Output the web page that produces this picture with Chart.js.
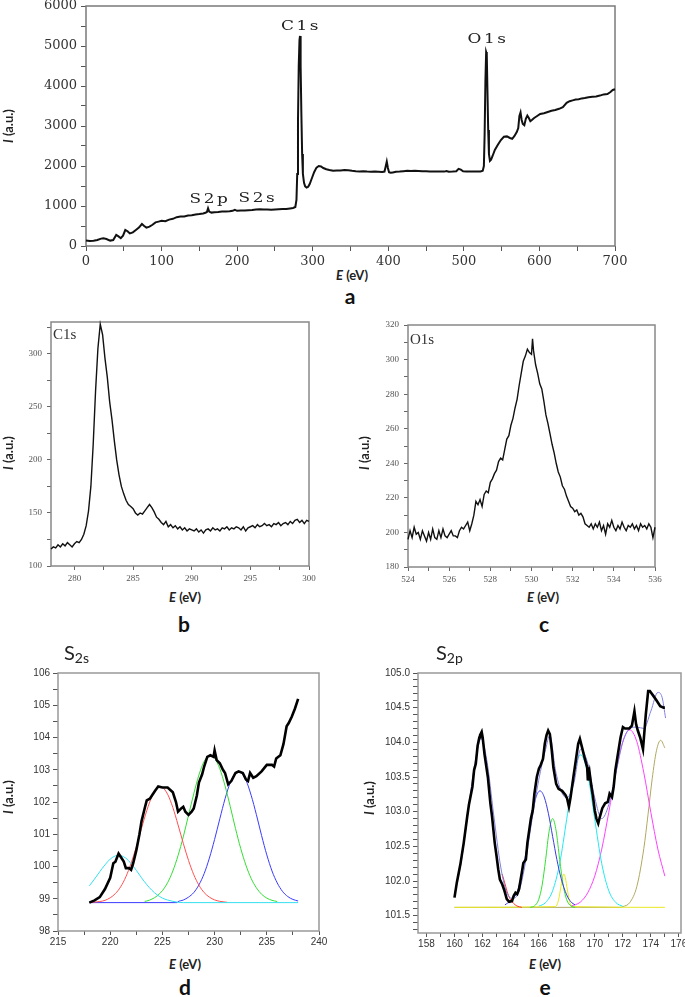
<!DOCTYPE html>
<html><head><meta charset="utf-8">
<script src="https://cdn.jsdelivr.net/npm/chart.js@4.4.1/dist/chart.umd.min.js"></script>
<style>
html,body{margin:0;padding:0;background:#fff;}
body{width:685px;height:997px;position:relative;overflow:hidden;}
.pn{position:absolute;}
.lbl{position:absolute;white-space:nowrap;line-height:1;transform:translate(-50%,-50%);}
.ax{font-family:Lato,'Open Sans',sans-serif;font-weight:bold;font-size:13px;color:#222;}
.yt{transform:translate(-50%,-50%) rotate(-90deg);}
.let{font-family:Lato,'Open Sans',sans-serif;font-weight:bold;font-size:21px;color:#111;}
.ann{font-family:'DejaVu Serif',serif;font-size:13px;color:#222;letter-spacing:2px;}
.inl{position:absolute;font-family:'Liberation Serif',serif;font-size:15px;color:#333;line-height:1;}
.ttl{position:absolute;font-family:Lato,sans-serif;font-size:20px;color:#222;line-height:1;}
.ttl sub{font-size:14px;vertical-align:-3px;}
</style></head><body>

<div class="pn" style="left:0;top:-20px"><canvas id="ca" width="640" height="285" style="width:640px;height:285px"></canvas></div>
<div class="pn" style="left:0;top:300px"><canvas id="cb" width="320" height="282" style="width:320px;height:282px"></canvas></div>
<div class="pn" style="left:360px;top:300px"><canvas id="cc" width="305" height="282" style="width:305px;height:282px"></canvas></div>
<div class="pn" style="left:0;top:660px"><canvas id="cd" width="330" height="290" style="width:330px;height:290px"></canvas></div>
<div class="pn" style="left:360px;top:660px"><canvas id="ce" width="340" height="292" style="width:340px;height:292px"></canvas></div>

<!-- panel a texts -->
<div class="lbl ann" style="left:301px;top:25px;transform:translate(-50%,-50%) scaleX(1.3)">C1s</div>
<div class="lbl ann" style="left:488px;top:38px;transform:translate(-50%,-50%) scaleX(1.3)">O1s</div>
<div class="lbl ann" style="left:210px;top:198px;transform:translate(-50%,-50%) scaleX(1.3)">S2p</div>
<div class="lbl ann" style="left:258px;top:197px;transform:translate(-50%,-50%) scaleX(1.3)">S2s</div>
<div class="lbl ax" style="left:352px;top:275px"><i>E</i> (eV)</div>
<div class="lbl let" style="left:350px;top:295px">a</div>
<div class="lbl ax yt" style="left:8px;top:126px"><i>I</i> (a.u.)</div>

<!-- panel b texts -->
<div class="inl" style="left:53px;top:327px">C1s</div>
<div class="lbl ax" style="left:185px;top:597px"><i>E</i> (eV)</div>
<div class="lbl let" style="left:184px;top:623px">b</div>
<div class="lbl ax yt" style="left:8px;top:453px"><i>I</i> (a.u.)</div>

<!-- panel c texts -->
<div class="inl" style="left:410px;top:332px">O1s</div>
<div class="lbl ax" style="left:543px;top:597px"><i>E</i> (eV)</div>
<div class="lbl let" style="left:544px;top:623px">c</div>
<div class="lbl ax yt" style="left:364px;top:453px"><i>I</i> (a.u.)</div>

<!-- panel d texts -->
<div class="ttl" style="left:64px;top:642px">S<sub>2s</sub></div>
<div class="lbl ax" style="left:185px;top:964px"><i>E</i> (eV)</div>
<div class="lbl let" style="left:185px;top:986px">d</div>
<div class="lbl ax yt" style="left:8px;top:797px"><i>I</i> (a.u.)</div>

<!-- panel e texts -->
<div class="ttl" style="left:436px;top:642px">S<sub>2p</sub></div>
<div class="lbl ax" style="left:545px;top:964px"><i>E</i> (eV)</div>
<div class="lbl let" style="left:545px;top:986px">e</div>
<div class="lbl ax yt" style="left:369px;top:798px"><i>I</i> (a.u.)</div>

<script>
// ---------------- DATA ----------------
// Panel a: survey spectrum [E (eV), I (a.u.)]
const surveyA = [[0,140],[5,125],[10,130],[15,150],[20,185],[23,195],[27,175],[32,135],[36,150],[40,275],[43,240],[46,195],[49,260],[52,400],[55,370],[58,315],[62,340],[66,400],[70,460],[74,550],[77,500],[80,460],[84,485],[88,530],[92,590],[96,610],[100,630],[105,620],[110,660],[115,680],[120,720],[125,735],[130,740],[135,760],[140,770],[145,790],[150,800],[155,815],[158,830],[160,850],[161.5,945],[163,860],[166,835],[170,845],[175,850],[180,860],[185,865],[190,870],[194,880],[197,905],[200,880],[205,885],[210,890],[215,895],[220,900],[225,915],[230,920],[235,910],[240,915],[245,905],[250,915],[255,920],[260,925],[265,925],[270,940],[274,950],[277,975],[278.5,1150],[279.5,1800],[280.5,3100],[281.5,4500],[282.5,5150],[283.2,5250],[284,4500],[285,3300],[286,2300],[287,1800],[288.5,1580],[290,1490],[292,1460],[294,1480],[296,1550],[299,1700],[302,1850],[305,1960],[308,2000],[311,1990],[314,1950],[318,1920],[322,1900],[327,1880],[332,1890],[337,1885],[342,1900],[347,1895],[352,1880],[357,1870],[362,1865],[367,1870],[372,1860],[377,1855],[382,1860],[387,1855],[392,1850],[395,1860],[396.5,1980],[398,2110],[399.5,1950],[401,1845],[403,1830],[406,1840],[410,1855],[415,1860],[420,1870],[425,1880],[430,1875],[435,1880],[440,1875],[445,1870],[450,1870],[455,1865],[460,1865],[465,1860],[470,1860],[474,1860],[477,1875],[480,1855],[485,1860],[490,1870],[493,1930],[496,1910],[499,1870],[503,1865],[508,1865],[513,1860],[518,1865],[522,1865],[525,1880],[526.5,2000],[527.5,2800],[528.5,4100],[529.5,4850],[530.3,4800],[531.2,3900],[532.2,2900],[533.2,2300],[534.5,2130],[536,2160],[538,2250],[541,2400],[545,2530],[549,2650],[553,2730],[557,2740],[561,2700],[564,2680],[567,2750],[570,2850],[572,2950],[573.5,3250],[575,3340],[576.5,3150],[578,3050],[580,3020],[582,3180],[584,3260],[586,3200],[588,3120],[590,3150],[593,3200],[597,3250],[601,3300],[606,3320],[611,3350],[616,3380],[621,3400],[626,3430],[631,3470],[636,3580],[640,3620],[644,3640],[648,3660],[652,3670],[656,3690],[660,3700],[665,3720],[670,3730],[675,3740],[680,3760],[685,3790],[690,3800],[694,3850],[697,3900],[700,3920]];
const aTicksX = [0,50,100,150,200,250,300,350,400,450,500,550,600,650,700];
const aLabelsX = [0,100,200,300,400,500,600,700];
const aTicksY = [0,500,1000,1500,2000,2500,3000,3500,4000,4500,5000,5500,6000];
const aLabelsY = [0,1000,2000,3000,4000,5000,6000];

// Panel b: C1s
const c1s = [[278.0,116],[278.2,118],[278.4,117],[278.6,120],[278.8,118],[279.0,121],[279.2,119],[279.4,122],[279.6,120],[279.8,118],[280.0,121],[280.2,123],[280.4,122],[280.6,125],[280.8,130],[281.0,138],[281.2,152],[281.4,175],[281.6,215],[281.8,265],[282.0,305],[282.2,328],[282.4,318],[282.6,296],[282.8,278],[283.0,255],[283.2,238],[283.4,218],[283.6,200],[283.8,186],[284.0,175],[284.2,168],[284.4,162],[284.6,158],[284.8,156],[285.0,154],[285.2,150],[285.4,148],[285.6,150],[285.8,149],[286.0,152],[286.2,155],[286.4,158],[286.6,155],[286.8,151],[287.0,146],[287.2,144],[287.4,141],[287.6,139],[287.8,142],[288.0,137],[288.2,139],[288.4,136],[288.6,138],[288.8,135],[289.0,137],[289.2,134],[289.4,136],[289.6,133],[289.8,135],[290.0,134],[290.2,133],[290.4,135],[290.6,132],[290.8,134],[291.0,131],[291.2,134],[291.4,135],[291.6,133],[291.8,136],[292.0,134],[292.2,135],[292.4,133],[292.6,136],[292.8,135],[293.0,137],[293.2,134],[293.4,136],[293.6,135],[293.8,137],[294.0,136],[294.2,134],[294.4,137],[294.6,133],[294.8,136],[295.0,137],[295.2,138],[295.4,136],[295.6,139],[295.8,137],[296.0,138],[296.2,140],[296.4,138],[296.6,139],[296.8,137],[297.0,140],[297.2,139],[297.4,141],[297.6,138],[297.8,140],[298.0,141],[298.2,139],[298.4,142],[298.6,140],[298.8,143],[299.0,144],[299.2,141],[299.4,143],[299.6,140],[299.8,143],[300.0,142]];
const bTicksX = [280,282.5,285,287.5,290,292.5,295,297.5,300];
const bLabelsX = [280,285,290,295,300];
const bTicksY = [100,125,150,175,200,225,250,275,300,325];
const bLabelsY = [100,150,200,250,300];

// Panel c: O1s
const o1s = [[524.0,196],[524.1,201],[524.2,197],[524.3,203],[524.4,199],[524.5,200],[524.6,196],[524.7,201],[524.8,198],[524.9,195],[525.0,200],[525.1,196],[525.2,202],[525.3,197],[525.4,196],[525.5,201],[525.6,197],[525.7,202],[525.8,198],[525.9,197],[526.0,199],[526.1,201],[526.2,198],[526.3,198],[526.4,197],[526.5,201],[526.6,203],[526.7,202],[526.8,204],[526.9,206],[527.0,201],[527.1,205],[527.2,210],[527.3,218],[527.4,216],[527.5,219],[527.6,215],[527.7,222],[527.8,224],[527.9,223],[528.0,229],[528.1,231],[528.2,234],[528.3,236],[528.4,241],[528.5,243],[528.6,242],[528.7,248],[528.8,254],[528.9,256],[529.0,262],[529.1,266],[529.2,272],[529.3,277],[529.4,285],[529.5,292],[529.6,299],[529.7,302],[529.8,306],[529.9,304],[530.0,303],[530.05,312],[530.1,305],[530.2,297],[530.3,292],[530.4,286],[530.5,283],[530.6,276],[530.7,268],[530.8,263],[530.9,257],[531.0,251],[531.1,246],[531.2,240],[531.3,235],[531.4,232],[531.5,227],[531.6,225],[531.7,221],[531.8,218],[531.9,215],[532.0,214],[532.1,212],[532.2,213],[532.3,210],[532.4,211],[532.5,209],[532.6,205],[532.7,204],[532.8,203],[532.9,205],[533.0,202],[533.1,205],[533.2,203],[533.3,206],[533.4,201],[533.5,204],[533.6,199],[533.7,205],[533.8,203],[533.9,207],[534.0,203],[534.1,201],[534.2,204],[534.3,202],[534.4,206],[534.5,203],[534.6,201],[534.7,204],[534.8,203],[534.9,205],[535.0,202],[535.1,204],[535.2,201],[535.3,205],[535.4,203],[535.5,204],[535.6,202],[535.7,205],[535.8,203],[535.9,197],[536.0,203]];
const cTicksX = [524,525,526,527,528,529,530,531,532,533,534,535,536];
const cLabelsX = [524,526,528,530,532,534,536];
const cTicksY = [180,190,200,210,220,230,240,250,260,270,280,290,300,310,320];
const cLabelsY = [180,200,220,240,260,280,300,320];

// Panel d: S2s measured + fitted peaks
const s2sData = [[218.0,98.88],[218.5,98.95],[219.0,99.05],[219.5,99.3],[220.0,99.65],[220.3,100.1],[220.5,100.15],[220.8,100.4],[221.0,100.3],[221.3,100.15],[221.5,99.95],[221.8,99.95],[222.0,99.9],[222.2,100.1],[222.5,100.5],[222.8,101.0],[223.0,101.4],[223.3,101.8],[223.5,102.05],[223.8,102.1],[224.0,102.2],[224.3,102.35],[224.6,102.48],[225.0,102.45],[225.5,102.45],[226.0,102.3],[226.3,102.0],[226.5,101.7],[226.8,101.8],[227.0,101.85],[227.2,101.7],[227.5,101.6],[227.8,101.7],[228.0,101.8],[228.3,102.2],[228.5,102.6],[228.8,102.85],[229.0,103.1],[229.3,103.4],[229.6,103.45],[229.9,103.4],[230.0,103.6],[230.2,103.3],[230.5,103.2],[230.8,103.0],[231.0,102.9],[231.3,102.55],[231.6,102.65],[232.0,102.9],[232.3,102.95],[232.7,102.9],[233.0,102.7],[233.2,102.65],[233.4,102.9],[233.7,102.75],[234.0,102.8],[234.5,102.95],[235.0,103.15],[235.5,103.15],[235.7,103.1],[235.9,103.35],[236.3,103.45],[236.6,103.8],[236.9,104.35],[237.1,104.45],[237.4,104.65],[237.7,104.9],[238.0,105.2]];
const s2sCyan = [[218,99.40],[218.5,99.61],[219,99.84],[219.5,100.05],[220,100.23],[220.5,100.33],[220.8,100.35],[221,100.34],[221.5,100.26],[222,100.09],[222.5,99.88],[223,99.65],[223.5,99.44],[224,99.26],[224.5,99.12],[225,99.02],[225.5,98.96],[226,98.92],[226.5,98.89],[227,98.88],[238,98.88]];
const s2sRed = [[218,98.886],[218.5,98.895],[219,98.914],[219.5,98.95],[220,99.03],[220.5,99.16],[221,99.37],[221.5,99.68],[222,100.10],[222.5,100.61],[223,101.18],[223.5,101.73],[224,102.17],[224.5,102.44],[224.8,102.48],[225,102.46],[225.5,102.24],[226,101.83],[226.5,101.29],[227,100.72],[227.5,100.19],[228,99.75],[228.5,99.42],[229,99.19],[229.5,99.05],[230,98.965],[230.5,98.92],[231,98.898],[231.2,98.89]];
const s2sGreen = [[223.3,98.92],[223.5,98.93],[224,98.99],[224.5,99.09],[225,99.25],[225.5,99.50],[226,99.86],[226.5,100.34],[227,100.92],[227.5,101.59],[228,102.25],[228.5,102.84],[229,103.26],[229.6,103.45],[230,103.36],[230.5,103.03],[231,102.50],[231.5,101.86],[232,101.18],[232.5,100.56],[233,100.04],[233.5,99.63],[234,99.34],[234.5,99.14],[235,99.02],[235.5,98.95],[236,98.915]];
const s2sBlue = [[218,98.88],[226.4,98.88],[226.5,98.91],[227,98.96],[227.5,99.05],[228,99.19],[228.5,99.43],[229,99.78],[229.5,100.26],[230,100.84],[230.5,101.48],[231,102.10],[231.5,102.60],[232,102.90],[232.3,102.95],[232.5,102.93],[233,102.68],[233.5,102.21],[234,101.61],[234.5,100.96],[235,100.36],[235.5,99.86],[236,99.49],[236.5,99.23],[237,99.07],[237.5,98.98],[238,98.93]];
const dTicksX = [215,217.5,220,222.5,225,227.5,230,232.5,235,237.5,240];
const dLabelsX = [215,220,225,230,235,240];
const dTicksY = [98,98.5,99,99.5,100,100.5,101,101.5,102,102.5,103,103.5,104,104.5,105,105.5,106];
const dLabelsY = [98,99,100,101,102,103,104,105,106];

// Panel e: S2p measured + fitted peaks
const s2pData = [[160.0,101.76],[160.17,101.98],[160.42,102.24],[160.66,102.55],[160.91,102.93],[161.03,103.10],[161.28,103.36],[161.4,103.6],[161.52,103.69],[161.65,103.95],[161.77,104.07],[161.82,104.10],[161.94,104.15],[162.01,104.07],[162.14,103.83],[162.38,103.5],[162.56,103.12],[162.68,102.93],[162.87,102.55],[163.0,102.36],[163.12,102.17],[163.24,102.02],[163.41,101.95],[163.56,101.86],[163.73,101.74],[163.9,101.70],[164.1,101.71],[164.23,101.79],[164.35,101.83],[164.47,101.81],[164.6,101.88],[164.8,102.12],[164.91,102.26],[165.09,102.31],[165.2,102.55],[165.45,102.90],[165.58,103.02],[165.7,103.26],[165.87,103.5],[166.02,103.62],[166.14,103.67],[166.31,103.76],[166.44,103.98],[166.56,104.10],[166.68,104.17],[166.8,104.12],[166.93,103.90],[167.05,103.64],[167.25,103.40],[167.42,103.33],[167.67,103.30],[167.91,103.24],[168.03,103.19],[168.16,103.07],[168.28,103.21],[168.48,103.5],[168.65,103.74],[168.82,103.98],[168.94,104.05],[169.09,103.93],[169.26,103.79],[169.46,103.64],[169.51,103.45],[169.63,103.57],[169.75,103.38],[169.88,103.21],[170.0,103.02],[170.12,102.90],[170.25,102.83],[170.37,102.93],[170.54,103.05],[170.74,103.12],[170.93,103.14],[171.06,103.26],[171.23,103.21],[171.35,103.36],[171.47,103.6],[171.65,103.83],[171.84,104.07],[172.01,104.22],[172.16,104.20],[172.46,104.20],[172.65,104.24],[172.83,104.45],[172.95,104.26],[173.07,104.17],[173.24,104.07],[173.44,103.90],[173.64,104.40],[173.81,104.74],[173.93,104.74],[174.18,104.67],[174.42,104.6],[174.67,104.52],[174.91,104.5],[175.0,104.5]];
const s2pEnvelope = [[160,101.8],[160.5,102.3],[161,103.05],[161.5,103.75],[161.9,104.05],[162.3,103.75],[162.8,102.95],[163.3,102.2],[163.8,101.8],[164.2,101.75],[164.6,101.85],[165,102.2],[165.5,102.85],[166,103.45],[166.5,103.9],[166.8,104.1],[167.2,103.6],[167.6,103.3],[168,103.2],[168.5,103.4],[169,103.9],[169.5,103.7],[170,103.2],[170.5,102.9],[171,103.1],[171.5,103.55],[172,104.0],[172.5,104.2],[173,104.22],[173.5,104.2],[174,104.45],[174.5,104.72],[174.8,104.65],[175.05,104.35]];
const s2pRed = [[163.4,102.1],[163.6,101.96],[163.8,101.82],[164.0,101.73],[164.2,101.68],[164.45,101.64],[164.8,101.62]];
const s2pBlue = [[163.6,101.655],[164,101.72],[164.5,101.86],[165,102.3],[165.5,102.9],[165.8,103.2],[166.1,103.30],[166.4,103.21],[166.7,102.97],[167,102.64],[167.3,102.31],[167.6,102.04],[168,101.80],[168.3,101.70],[168.6,101.655]];
const s2pGreen = [[165.4,101.62],[165.7,101.64],[166.0,101.73],[166.25,101.94],[166.5,102.31],[166.75,102.72],[167.0,102.90],[167.25,102.72],[167.5,102.31],[167.75,101.94],[168.0,101.73],[168.3,101.64],[168.6,101.62]];
const s2pYellow = [[160,101.62],[167.2,101.63],[167.4,101.71],[167.55,101.87],[167.7,102.05],[167.8,102.10],[167.9,102.05],[168.05,101.87],[168.2,101.71],[168.4,101.63],[175,101.62]];
const s2pCyan = [[166.0,101.635],[166.5,101.69],[167.0,101.86],[167.5,102.25],[168.0,102.89],[168.5,103.54],[169.0,103.82],[169.5,103.54],[170.0,102.89],[170.5,102.25],[171.0,101.86],[171.5,101.69],[172.0,101.635]];
const s2pMagenta = [[168.3,101.64],[168.5,101.65],[169.0,101.70],[169.5,101.83],[170.0,102.07],[170.5,102.46],[171.0,102.99],[171.5,103.56],[172.0,104.01],[172.5,104.18],[173.0,104.01],[173.5,103.56],[174.0,102.99],[174.5,102.46],[175.0,102.07]];
const s2pOlive = [[160,101.62],[171.8,101.62],[172.0,101.63],[172.5,101.69],[173.0,101.92],[173.5,102.47],[173.8,102.96],[174.1,103.48],[174.4,103.88],[174.7,104.03],[175.0,103.92]];
const eTicksX = [158,159,160,161,162,163,164,165,166,167,168,169,170,171,172,173,174,175,176];
const eLabelsX = [158,160,162,164,166,168,170,172,174,176];
const eTicksY = [101.3,101.4,101.5,101.6,101.7,101.8,101.9,102.0,102.1,102.2,102.3,102.4,102.5,102.6,102.7,102.8,102.9,103.0,103.1,103.2,103.3,103.4,103.5,103.6,103.7,103.8,103.9,104.0,104.1,104.2,104.3,104.4,104.5,104.6,104.7,104.8,104.9,105.0];
const eLabelsY = [101.5,102.0,102.5,103.0,103.5,104.0,104.5,105.0];

// ---------------- HELPERS ----------------
function framePlugin(color, w){
  return {id:'frame', beforeDatasetsDraw(c){
    const a=c.chartArea, x=c.ctx; x.save(); x.strokeStyle=color; x.lineWidth=w;
    x.strokeRect(a.left,a.top,a.right-a.left,a.bottom-a.top); x.restore(); }};
}
function axis(o){
  return {type:'linear', position:o.pos, min:o.min, max:o.max,
    afterBuildTicks:s=>{ s.ticks=o.ticks.map(v=>({value:v})); },
    afterFit:s=>{ if(o.pos==='left') s.width=o.fit; else s.height=o.fit; },
    ticks:{autoSkip:false, maxRotation:0, minRotation:0, padding:o.pad, color:o.color, font:o.font,
      callback:(v)=> o.labels.includes(v) ? o.fmt(v) : ''},
    grid:{drawOnChartArea:false, drawTicks:true, tickLength:o.tl, tickColor:o.tc, tickWidth:1},
    border:{display:false}};
}
function ds(pairs, color, w, smooth, order){
  return {data:pairs.map(p=>({x:p[0],y:p[1]})), borderColor:color, borderWidth:w, pointRadius:0,
    fill:false, tension:0, cubicInterpolationMode: smooth?'monotone':'default', order:order, clip:false};
}
function make(id, datasets, xo, yo, pad, frameColor){
  new Chart(document.getElementById(id), {
    type:'line', data:{datasets},
    options:{responsive:false, animation:false, devicePixelRatio:1,
      layout:{padding:pad},
      plugins:{legend:{display:false}, tooltip:{enabled:false}},
      scales:{x:axis(Object.assign({pos:'bottom'},xo)), y:axis(Object.assign({pos:'left'},yo))}},
    plugins:[framePlugin(frameColor,1.5)]
  });
}
const int = v=>String(v);
const fnA = {family:"'DejaVu Serif', serif", size:13};
const fnB = {family:"'Liberation Serif', serif", size:9};
const fnD = {family:"'Liberation Sans', Arial, sans-serif", size:10};

// Panel a  (canvas top -20 → plot top 6, bottom 246; right 615)
make('ca', [ds(surveyA,'#111',2,false,0)],
  {min:0,max:700,ticks:aTicksX,labels:aLabelsX,fmt:int,fit:19,pad:3,tl:5,tc:'#555',color:'#333',font:fnA},
  {min:0,max:6000,ticks:aTicksY,labels:aLabelsY,fmt:int,fit:86,pad:4,tl:5,tc:'#555',color:'#333',font:fnA},
  {top:26,right:25,left:0,bottom:0}, '#7a7a7a');
// Panel b
make('cb', [ds(c1s,'#111',1.4,false,0)],
  {min:278,max:300,ticks:bTicksX,labels:bLabelsX,fmt:int,fit:16,pad:3,tl:4,tc:'#666',color:'#555',font:fnB},
  {min:100,max:330,ticks:bTicksY,labels:bLabelsY,fmt:int,fit:51,pad:5,tl:4,tc:'#666',color:'#555',font:fnB},
  {top:22,right:11,left:0,bottom:0}, '#888');
// Panel c
make('cc', [ds(o1s,'#111',1.4,false,0)],
  {min:524,max:536,ticks:cTicksX,labels:cLabelsX,fmt:int,fit:15,pad:3,tl:4,tc:'#666',color:'#555',font:fnB},
  {min:180,max:320,ticks:cTicksY,labels:cLabelsY,fmt:int,fit:48,pad:5,tl:4,tc:'#666',color:'#555',font:fnB},
  {top:25,right:10,left:0,bottom:0}, '#888');
// Panel d
make('cd', [
    ds(s2sData,'#000',2.6,false,0),
    ds(s2sCyan,'#33e0f0',1,true,1),
    ds(s2sRed,'#ff5050',1,true,2),
    ds(s2sGreen,'#33dd33',1,true,3),
    ds(s2sBlue,'#3a3aff',1,true,4)],
  {min:215,max:240,ticks:dTicksX,labels:dLabelsX,fmt:int,fit:19,pad:1,tl:4,tc:'#555',color:'#333',font:fnD},
  {min:98,max:106,ticks:dTicksY,labels:dLabelsY,fmt:int,fit:58,pad:3,tl:5,tc:'#555',color:'#333',font:fnD},
  {top:13,right:11,left:0,bottom:0}, '#999');
// Panel e  (canvas 340 wide → plot right 681)
make('ce', [
    ds(s2pData,'#000',2.6,false,0),
    ds(s2pEnvelope,'#8080e0',1,true,1),
    ds(s2pRed,'#ff3030',1,true,2),
    ds(s2pBlue,'#3a3ae0',1,true,3),
    ds(s2pGreen,'#33e033',1,true,4),
    ds(s2pYellow,'#e8e820',1,true,5),
    ds(s2pCyan,'#22e8f0',1,true,6),
    ds(s2pMagenta,'#ff40ff',1,true,7),
    ds(s2pOlive,'#b0a860',1,true,8)],
  {min:157.4,max:176.15,ticks:eTicksX,labels:eLabelsX,fmt:int,fit:19,pad:1,tl:4,tc:'#555',color:'#333',font:fnD},
  {min:101.25,max:105.0,ticks:eTicksY,labels:eLabelsY,fmt:v=>v.toFixed(1),fit:58,pad:3,tl:5,tc:'#555',color:'#333',font:fnD},
  {top:13,right:19,left:0,bottom:0}, '#999');
</script>
</body></html>
